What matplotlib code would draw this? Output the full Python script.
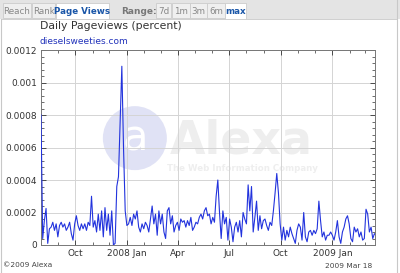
import numpy as np
import pandas as pd
import matplotlib
matplotlib.use("Agg")
import matplotlib.pyplot as plt
import matplotlib.dates as mdates
from matplotlib.patches import Rectangle, Ellipse
from matplotlib.lines import Line2D

# daily pageviews (percent), sampled every 3 days from 2007-08-01
pageviews = [
    0.0008, 0.00004, 0.00015, 0.000225, 0.00001, 0.0001, 0.00011, 0.00014, 0.00009, 0.00013,
    0.00005, 0.00012, 0.00014, 0.00011, 0.00013, 0.00009, 0.00011, 0.00014, 0.00007, 0.00003,
    0.00013, 0.00018, 0.00012, 0.00009, 0.00013, 0.0001, 0.00013, 0.00009, 0.00014, 0.00012,
    0.0003, 0.00011, 0.00015, 0.00008, 0.00019, 0.00009, 0.00021, 0.00005, 0.00023, 0.00009,
    0.00019, 0.00006, 0.00021, 0.0, 0.00001, 0.00036, 0.00042, 0.00075, 0.0011, 0.0006,
    0.00021, 0.00012, 0.00013, 0.00017, 0.00012, 0.00019, 0.00016, 0.00021, 0.00011, 0.00008,
    0.00013, 0.0001, 0.00014, 0.00012, 0.00008, 0.00016, 0.00024, 0.00013, 0.00019, 0.00006,
    0.00021, 0.00013, 0.00019, 0.00008, 0.00004, 0.00021, 0.00023, 0.00013, 0.00018, 0.00008,
    0.00012, 0.00014, 0.00009, 0.00016, 0.00014, 0.00015, 0.00011, 0.00015, 0.00012, 0.00017,
    0.00009, 0.00011, 0.00014, 0.00013, 0.00017, 0.00019, 0.00016, 0.00021, 0.00023, 0.00018,
    0.00019,
    0.00013, 0.00017, 0.00014, 0.0003, 0.0004, 0.0002, 0.00004, 0.00021, 0.00013, 0.00017,
    0.00003, 0.00016, 0.00011, 0.00002, 0.00011, 0.00014, 0.00008, 0.00015, 0.00005, 0.0002,
    0.00016, 0.00013, 0.00037, 0.00021, 0.00036, 0.00008, 0.00017, 0.00027, 0.00009, 0.00018,
    0.0001, 0.00015, 0.00016, 0.00012, 0.00009, 0.00014, 0.00012, 0.00021, 0.00032, 0.00044,
    0.00032, 0.00013, 0.00003, 0.00011, 0.00003, 0.00009, 0.00005, 0.00011, 0.00007, 0.00004,
    0.00001, 0.00009, 0.00013, 0.00011, 0.00003, 0.0002, 0.00005, 0.00002, 0.00008, 0.00009,
    0.00006, 0.00009, 0.00007, 0.0001, 0.00027, 0.00015, 0.00005, 0.00008, 0.00003, 0.00006,
    0.00006, 0.00008, 0.00006, 0.00003, 0.00008, 0.00015, 0.00005, 0.00001, 0.00008, 0.00011,
    0.00016, 0.00018, 0.00013, 0.00004, 0.00002, 0.00011, 0.00008, 0.0001, 0.00005, 0.00008,
    0.00003, 0.00004, 0.00022, 0.00019, 0.00008, 0.00011, 0.00004, 0.00007, 0.00006,
]
dates = pd.date_range("2007-08-01", periods=len(pageviews), freq="3D")

quarter_ticks = ["2007-10-01", "2008-01-01", "2008-04-01", "2008-07-01", "2008-10-01", "2009-01-01"]
quarter_labels = ["Oct", "2008 Jan", "Apr", "Jul", "Oct", "2009 Jan"]
y_ticks = [0, 0.0002, 0.0004, 0.0006, 0.0008, 0.001, 0.0012]
y_labels = ["0", "0.0002", "0.0004", "0.0006", "0.0008", "0.001", "0.0012"]

W, H = 400, 273
fig = plt.figure(figsize=(W / 100, H / 100), dpi=100)
fig.patch.set_facecolor("white")

def fx(x):
    return x / W

def fy(y):
    return 1 - y / H

def box(x0, y0, x1, y1, fc, ec="none", lw=0.8, z=1):
    fig.patches.append(Rectangle((fx(x0), fy(y1)), fx(x1) - fx(x0), fy(y0) - fy(y1),
                                 transform=fig.transFigure, facecolor=fc, edgecolor=ec,
                                 linewidth=lw, zorder=z))

def hline(x0, x1, y, c, lw=0.8):
    fig.lines.append(Line2D([fx(x0), fx(x1)], [fy(y), fy(y)], transform=fig.transFigure, color=c, lw=lw))

def vline(x, y0, y1, c, lw=0.8):
    fig.lines.append(Line2D([fx(x), fx(x)], [fy(y0), fy(y1)], transform=fig.transFigure, color=c, lw=lw))

# tab bar
box(0, 0, W, 18.5, "#e4e4e4")
tabs = [("Reach", 3, 31, False), ("Rank", 32, 55, False), ("Page Views", 56, 109, True)]
ranges = [("7d", 156, 171, False), ("1m", 172, 190, False), ("3m", 190, 207, False),
          ("6m", 207, 225, False), ("max", 225, 246, True)]
for label, x0, x1, active in tabs + ranges:
    box(x0, 3, x1, 19 if active else 18, "white" if active else "#efefef", ec="#cccccc", lw=0.6, z=2)
    fig.text(fx((x0 + x1) / 2), fy(11), label, ha="center", va="center", fontsize=6.3,
             color="#1a56a8" if active else "#888888", fontweight="bold" if active else "normal", zorder=3)
fig.text(fx(121), fy(11), "Range:", ha="left", va="center", fontsize=6.5, fontweight="bold", color="#777777")

# panel border
vline(1, 18.5, H, "#c8c8c8")
vline(397, 0, H, "#c8c8c8")
hline(1, 397, 18.5, "#c8c8c8", lw=0.6)

fig.text(fx(40), fy(26), "Daily Pageviews (percent)", ha="left", va="center", fontsize=7.8, color="#333333")
fig.text(fx(40), fy(41), "dieselsweeties.com", ha="left", va="center", fontsize=6.5, color="#2233bb")
fig.text(fx(3), fy(265), "\u00a92009 Alexa", ha="left", va="center", fontsize=5.3, color="#444444")
fig.text(fx(372), fy(266), "2009 Mar 18", ha="right", va="center", fontsize=5.3, color="#444444")

ax = fig.add_axes([fx(41), fy(245), fx(375) - fx(41), fy(50) - fy(245)])
ax.set_facecolor("white")

# watermark
ax.add_patch(Ellipse((0.281, 0.548), 64 / 334, 64 / 195, transform=ax.transAxes,
                     facecolor="#e0e2f5", edgecolor="none", zorder=0))
ax.text(0.281, 0.548, "a", transform=ax.transAxes, ha="center", va="center",
        fontsize=30, color="white", zorder=0.5)
ax.text(0.385, 0.47, "Alexa", transform=ax.transAxes, ha="left", va="baseline",
        fontsize=33, fontweight="bold", color="#eeeeee", zorder=0.5)
ax.text(0.378, 0.39, "The Web Information Company", transform=ax.transAxes, ha="left",
        va="center", fontsize=6.2, fontweight="bold", color="#eeeeee", zorder=0.5)

ax.plot(dates, pageviews, color="#2233dd", lw=0.8, zorder=3)

ax.set_xlim(pd.Timestamp("2007-08-01"), pd.Timestamp("2009-03-18"))
ax.set_ylim(0, 0.0012)
ax.set_xticks(pd.to_datetime(quarter_ticks))
ax.set_xticklabels(quarter_labels)
ax.xaxis.set_minor_locator(mdates.MonthLocator())
ax.set_yticks(y_ticks)
ax.set_yticklabels(y_labels)
ax.set_yticks(np.arange(0, 0.00121, 0.00004), minor=True)

ax.grid(True, which="major", color="#d4d4d4", lw=0.7)
ax.tick_params(which="both", direction="in", top=True, right=True, colors="#333333",
               labelsize=6.5, labelcolor="#333333", pad=3)
ax.tick_params(which="major", length=3.5, width=0.6)
ax.tick_params(which="minor", length=2, width=0.5)
for s in ax.spines.values():
    s.set_color("#777777")
    s.set_linewidth(0.7)

fig.savefig("out.png", dpi=100)
